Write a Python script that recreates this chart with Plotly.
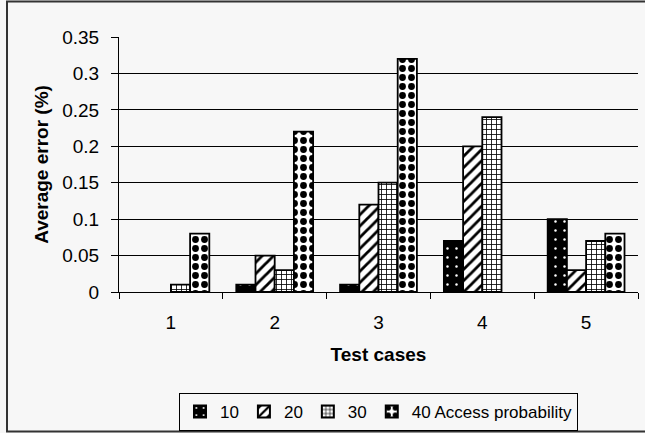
import plotly.graph_objects as go

categories = ["1", "2", "3", "4", "5"]
series_names = ["10", "20", "30", "40 Access probability"]
s10 = [0, 0.01, 0.01, 0.07, 0.10]
s20 = [0, 0.05, 0.12, 0.20, 0.03]
s30 = [0.01, 0.03, 0.15, 0.24, 0.07]
s40 = [0.08, 0.22, 0.32, 0, 0.08]
y_ticks = [0, 0.05, 0.1, 0.15, 0.2, 0.25, 0.3, 0.35]

FONT = "Arial, Liberation Sans, sans-serif"
BG = "#f7f7f7"

patterns = [
    dict(shape=".", bgcolor="black", fgcolor="white", fillmode="replace", size=9, solidity=0.06),
    dict(shape="/", bgcolor="white", fgcolor="black", fillmode="replace", size=8, solidity=0.35),
    dict(shape="+", bgcolor="white", fgcolor="black", fillmode="replace", size=5, solidity=0.3),
    dict(shape=".", bgcolor="white", fgcolor="black", fillmode="replace", size=9, solidity=0.45),
]

fig = go.Figure()
for name, vals, pat in zip(series_names, [s10, s20, s30, s40], patterns):
    fig.add_trace(go.Bar(
        x=categories, y=vals, name=name,
        marker=dict(color="white",
                    line=dict(color="black", width=[0 if v == 0 else 1.8 for v in vals]),
                    pattern=pat),
    ))

W, H = 645, 433
L, R, T, B = 119, 7, 37, 141
pw, ph = W - L - R, H - T - B

def px_x(p):
    return (p - L) / pw

def px_y(p):
    return (H - B - p) / ph

frame = dict(color="#333333", width=2)
fig.add_shape(type="line", xref="paper", yref="paper",
              x0=px_x(7), x1=px_x(7), y0=px_y(431.5), y1=px_y(1.5), line=frame)
fig.add_shape(type="line", xref="paper", yref="paper",
              x0=px_x(6), x1=px_x(646), y0=px_y(1.5), y1=px_y(1.5), line=frame)
fig.add_shape(type="line", xref="paper", yref="paper",
              x0=px_x(6), x1=px_x(646), y0=px_y(431.5), y1=px_y(431.5), line=frame)

fig.update_layout(
    width=W, height=H,
    margin=dict(l=L, r=R, t=T, b=B, autoexpand=False),
    paper_bgcolor=BG, plot_bgcolor=BG,
    font=dict(family=FONT, size=19, color="black"),
    barmode="group", bargap=0.26, bargroupgap=0,
    showlegend=True,
    legend=dict(orientation="h", x=0.5, xanchor="center", y=px_y(393), yanchor="top",
                bordercolor="black", borderwidth=1, bgcolor=BG,
                font=dict(size=17), itemsizing="constant", itemwidth=30,
                tracegroupgap=0),
    xaxis=dict(type="category", showline=True, linecolor="black", linewidth=1,
               ticks="outside", tickson="boundaries", ticklen=6, tickcolor="black",
               ticklabelstandoff=13,
               title=dict(text="<b>Test cases</b>", font=dict(size=19), standoff=15),
               showgrid=False),
    yaxis=dict(range=[0, 0.35], tickvals=y_ticks, showline=True, linecolor="black", linewidth=1,
               ticks="outside", ticklen=7, tickcolor="black", ticklabelstandoff=8,
               showgrid=True, gridcolor="black", gridwidth=1, zeroline=False,
               title=dict(text="<b>Average error (%)</b>", font=dict(size=19), standoff=8)),
)

fig.write_html("out.html", config={"displayModeBar": False},
               post_script="document.body.style.margin='0';")
